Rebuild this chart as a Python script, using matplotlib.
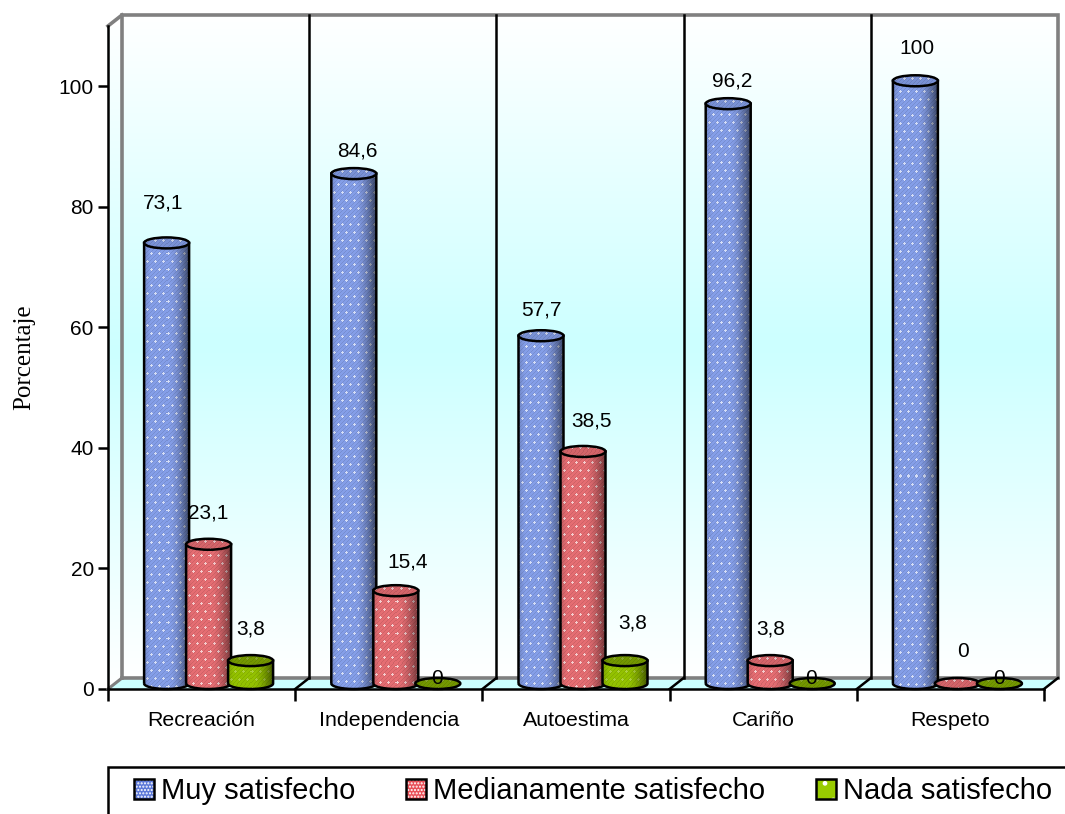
import matplotlib
matplotlib.use("Agg")
import matplotlib.pyplot as plt
import numpy as np
from matplotlib.legend_handler import HandlerBase
from matplotlib.patches import Ellipse, PathPatch, Polygon, Rectangle
from matplotlib.path import Path

categories = ["Recreación", "Independencia", "Autoestima", "Cariño", "Respeto"]
series_names = ["Muy satisfecho", "Medianamente satisfecho", "Nada satisfecho"]
muy = [73.1, 84.6, 57.7, 96.2, 100]
medianamente = [23.1, 15.4, 38.5, 3.8, 0]
nada = [3.8, 0, 3.8, 0, 0]
y_ticks = [0, 20, 40, 60, 80, 100]

# label offsets from the centre of each bar's top, in pixels
nudge_muy = [(-3, 40), (4, 23), (0, 26), (4, 23), (2, 32)]
nudge_medianamente = [(0, 31), (12, 29), (8, 30), (0, 32), (6, 32)]
nudge_nada = [(0, 32), (-1, 5), (8, 38), (-1, 5), (0, 5)]

W, H = 1065, 814
LEFT, RIGHT, BASE, TOP = 108, 1044, 689, 26
DEPTH_X, DEPTH_Y = 14, 11
BAR_W, BAR_STEP = 45, 42
LW = 1.8
plt.rcParams["font.family"] = ["Liberation Sans", "DejaVu Sans"]

fig = plt.figure(figsize=(W / 100, H / 100), dpi=100, facecolor="white")
ax = fig.add_axes([LEFT / W, 1 - BASE / H, (RIGHT - LEFT) / W, (BASE - TOP) / H])
ax.set_xlim(0, len(categories))
ax.set_ylim(0, 110)
ax.patch.set_visible(False)
px = len(categories) / (RIGHT - LEFT)
py = 110 / (BASE - TOP)
dx, dy = DEPTH_X * px, DEPTH_Y * py
n = len(categories)


def wall_gradient():
    t = np.abs(np.linspace(-1, 1, 300))
    low = np.array([0.80, 1.0, 1.0])
    rgb = low + (1 - low) * t[:, None]
    return rgb[:, None, :]


# back wall, side wall and floor
ax.imshow(wall_gradient(), extent=(dx, n + dx, dy, 110 + dy), aspect="auto", zorder=1, clip_on=False)
side = Polygon([(0, 0), (dx, dy), (dx, 110 + dy), (0, 110)], closed=True, facecolor="none", edgecolor="none",
               transform=ax.transData)
ax.add_patch(side)
side_img = ax.imshow(wall_gradient(), extent=(0, dx, 0, 110 + dy), aspect="auto", zorder=1)
side_img.set_clip_path(side)
ax.add_patch(Polygon([(0, 0), (dx, dy), (n + dx, dy), (n, 0)], closed=True, facecolor="#CCFFFF", edgecolor="none",
                     zorder=1.1, clip_on=False))

gray = "#808080"
ax.plot([dx, dx, n + dx, n + dx], [dy, 110 + dy, 110 + dy, dy], color=gray, lw=2.6, zorder=2, clip_on=False,
        solid_joinstyle="miter")
ax.plot([dx, n + dx], [dy, dy], color=gray, lw=2.6, zorder=2, clip_on=False)
ax.plot([0, dx], [110, 110 + dy], color=gray, lw=2.6, zorder=2, clip_on=False)
ax.plot([0, dx], [0, dy], color=gray, lw=2.2, zorder=2, clip_on=False)
for i in range(1, n):
    ax.plot([i + dx, i + dx], [dy, 110 + dy], color="black", lw=LW, zorder=2.1, clip_on=False)
for i in range(1, n + 1):
    ax.plot([i, i + dx], [0, dy], color="black", lw=LW, zorder=2.1, clip_on=False)


def cloth(w, h, base, dots, shade_to):
    # flat colour with a faint weave and small light crosses, darker towards the right edge
    yy, xx = np.mgrid[0:h, 0:w]
    rgb = np.ones((h, w, 3)) * np.array(base)
    weave = ((xx + yy) % 4 == 0)
    rgb[weave] = rgb[weave] * 0.9
    row = yy // 8
    cx = (xx + 4 * (row % 2)) % 8
    cy = yy % 8
    cross = ((cx == 3) & (np.abs(cy - 3) <= 1)) | ((cy == 3) & (np.abs(cx - 3) <= 1))
    rgb[cross] = rgb[cross] * (1 - dots) + dots
    u = xx / max(w - 1, 1)
    k = 1 - shade_to * np.clip((u - 0.55) / 0.45, 0, 1) ** 1.6 - 0.12 * np.clip((0.12 - u) / 0.12, 0, 1)
    return np.clip(rgb * k[..., None], 0, 1)


blue = dict(base=(0.52, 0.62, 0.91), dots=0.65, shade_to=0.55)
red = dict(base=(0.90, 0.43, 0.45), dots=0.65, shade_to=0.50)
green = dict(base=(0.58, 0.76, 0.0), dots=0.25, shade_to=0.55)
top_shade = [0.92, 0.92, 0.78]


def cylinder(center, value, style, lid_shade, z):
    half = BAR_W * px / 2
    rx, ry = half, 5.5 * py
    base_y = dy / 2
    top_y = value + dy / 2
    if value > 0:
        t = np.linspace(np.pi, 2 * np.pi, 40)
        lower = np.column_stack([center + rx * np.cos(t), base_y + ry * np.sin(t)])
        verts = np.vstack([lower, [center + rx, top_y], [center - rx, top_y], lower[0]])
        body = PathPatch(Path(verts), facecolor="none", edgecolor="black", lw=LW, zorder=z + 0.02, clip_on=False)
        ax.add_patch(body)
        h_px = int(np.ceil(value / py + 6))
        img = ax.imshow(cloth(BAR_W, h_px, **style), extent=(center - half, center + half, top_y - h_px * py, top_y),
                        aspect="auto", interpolation="nearest", zorder=z)
        img.set_clip_path(body)
    lid = Ellipse((center, top_y), 2 * rx, 2 * ry, facecolor="none", edgecolor="black", lw=LW, zorder=z + 0.03,
                  clip_on=False)
    ax.add_patch(lid)
    lid_style = dict(style, shade_to=0.0)
    lid_tex = cloth(BAR_W, 12, **lid_style) * lid_shade
    img = ax.imshow(lid_tex, extent=(center - half, center + half, top_y - 6 * py, top_y + 6 * py), aspect="auto",
                    interpolation="nearest", zorder=z + 0.025)
    img.set_clip_path(lid)


table = [(muy, blue, top_shade[0], nudge_muy), (medianamente, red, top_shade[1], nudge_medianamente),
         (nada, green, top_shade[2], nudge_nada)]
for i in range(n):
    for j, (values, style, lid_shade, nudge) in enumerate(table):
        center = i + 0.5 + dx / 2 + (j - 1) * BAR_STEP * px
        cylinder(center, values[i], style, lid_shade, 3 + i + j * 0.1)
        ax.annotate(f"{values[i]:g}".replace(".", ","), (center, values[i] + dy / 2), xytext=nudge[i],
                    textcoords="offset pixels", ha="center", va="center", fontsize=15, color="black", zorder=10)

for name in ("top", "right"):
    ax.spines[name].set_visible(False)
for name in ("left", "bottom"):
    ax.spines[name].set_linewidth(LW)
    ax.spines[name].set_zorder(9)
ax.set_yticks(y_ticks)
ax.tick_params(axis="y", length=7.2, width=LW, labelsize=15, pad=3)
ax.set_xticks(range(n + 1))
ax.set_xticklabels([])
ax.tick_params(axis="x", which="major", length=8.6, width=LW)
ax.set_xticks(np.arange(n) + 0.5, categories, minor=True)
ax.tick_params(axis="x", which="minor", length=0, labelsize=15.4, pad=15.5)

fig.text(24 / W, 1 - 357 / H, "Porcentaje", rotation=90, ha="center", va="center", fontsize=18,
         family="Liberation Serif")


class SwatchHandler(HandlerBase):
    def create_artists(self, legend, orig, xdescent, ydescent, width, height, fontsize, trans):
        face = Rectangle((-xdescent, -ydescent), width, height, facecolor=orig.get_facecolor(), edgecolor="none",
                         transform=trans)
        dots = Rectangle((-xdescent, -ydescent), width, height, facecolor="none", edgecolor="white",
                         hatch=orig.get_hatch(), lw=0, transform=trans)
        frame = Rectangle((-xdescent, -ydescent), width, height, facecolor="none", edgecolor="black", lw=LW,
                          transform=trans)
        return [face, dots, frame]


# legend frame runs off the canvas on the right and at the bottom
fig.add_artist(Rectangle((LEFT / W, 1 - 816 / H), 1000 / W, 49 / H, facecolor="white", edgecolor="black", lw=LW,
                         transform=fig.transFigure))
handles = [Rectangle((0, 0), 1, 1, facecolor="#5C78D8", hatch="....."),
           Rectangle((0, 0), 1, 1, facecolor="#E85058", hatch="....."),
           Rectangle((0, 0), 1, 1, facecolor="#99CC00", hatch=".")]
fig.legend(handles, series_names, loc="center left", bbox_to_anchor=(134 / W, 1 - 791 / H), ncols=3, frameon=False,
           fontsize=21, handlelength=0.68, handleheight=0.68, handletextpad=0.24, columnspacing=1.75, borderpad=0,
           borderaxespad=0, handler_map={Rectangle: SwatchHandler()})

fig.savefig("out.png", dpi=100)
